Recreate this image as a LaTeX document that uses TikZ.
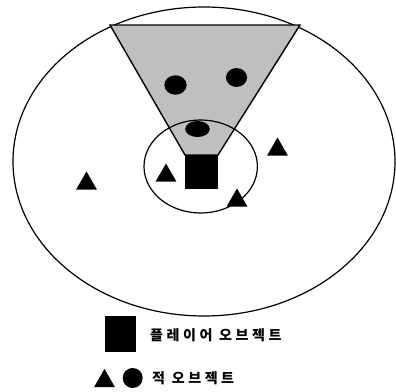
\documentclass[tikz,border=0pt]{standalone}
\usepackage{fontspec}
\newfontfamily\krfont[LetterSpace=25]{Noto Sans CJK KR}
\usetikzlibrary{shapes.geometric}
\tikzset{
  field/.style={draw=black, line width=1.2pt},
  viewcone/.style={draw=black, line width=1.4pt, fill=gray!50},
  playerbox/.style={rectangle, fill=black, minimum width=1.16cm, minimum height=1.19cm, inner sep=0pt},
  enemytri/.style={regular polygon, regular polygon sides=3, fill=black, minimum size=0.84cm, inner sep=0pt},
  enemydot/.style={ellipse, fill=black, inner sep=0pt, minimum width=0.78cm, minimum height=0.68cm},
  legendtext/.style={font=\krfont\bfseries\fontsize{14}{16}\selectfont, anchor=west, inner sep=0pt}
}

\begin{document}
\begin{tikzpicture}[x=0.035cm, y=-0.035cm]
  \useasboundingbox (0,0) rectangle (396,392);

  % area around the player
  \draw[field] (204,161.5) ellipse [x radius=191, y radius=154.5];

  % view cone
  \draw[viewcone] (110,25) -- (300,25) -- (218,155) -- (185,155) -- cycle;
  \draw[field] (200.7,166.5) ellipse [x radius=56.7, y radius=46.5];

  % enemies in sight
  \node[enemydot] (d1) at (175.5,85) {};
  \node[enemydot, minimum width=0.74cm, minimum height=0.66cm] (d2) at (236.5,77.5) {};
  \node[enemydot, minimum width=0.86cm, minimum height=0.56cm] (d3) at (197.5,129) {};

  % player
  \node[playerbox] (player) at (201.5,172) {};

  % other enemies
  \node[enemytri] (t1) at (86.5,183.5) {};
  \node[enemytri] (t2) at (166,175.5) {};
  \node[enemytri] (t3) at (277.5,149.5) {};
  \node[enemytri] (t4) at (237,200.5) {};

  % legend
  \node[playerbox, minimum width=1.07cm, minimum height=1.26cm] (legplayer) at (120.5,334) {};
  \node[legendtext] (legplayertext) at (150,335) {플레이어 오브젝트};
  \node[enemytri] (legtri) at (104.5,381) {};
  \node[enemydot, minimum width=0.7cm, minimum height=0.7cm] (legdot) at (132.7,378) {};
  \node[legendtext] (legenemytext) at (152,378) {적 오브젝트};
\end{tikzpicture}
\end{document}
